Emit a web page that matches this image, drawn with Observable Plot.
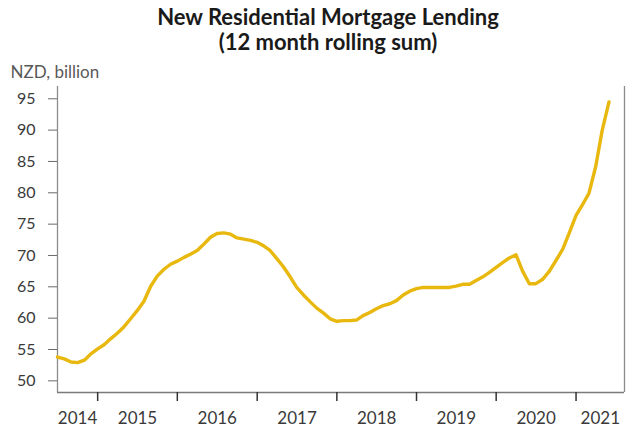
<!DOCTYPE html>
<html>
<head>
<meta charset="utf-8">
<script src="https://cdn.jsdelivr.net/npm/d3@7"></script>
<script src="https://cdn.jsdelivr.net/npm/@observablehq/plot@0.6"></script>
<style>
  html, body { margin: 0; padding: 0; background: #fff; }
  #wrap { width: 640px; height: 437px; overflow: hidden; }
  #title { box-sizing: border-box; width: 640px; height: 54px; padding-top: 4px; padding-left: 16px;
           text-align: center; font-family: Lato, "Open Sans", sans-serif; font-weight: bold;
           font-size: 22px; line-height: 25px; color: #1a1a1a; }
  svg { display: block; }
</style>
</head>
<body>
<div id="wrap">
  <div id="title">
    <div>New Residential Mortgage Lending</div>
    <div>(12 month rolling sum)</div>
  </div>
  <div id="chart"></div>
</div>
<script>
// Monthly series, July 2014 – June 2021 (NZD billion, 12 month rolling sum)
const firstMonth = "2014-07-01";
const lending = [
  53.8, 53.5, 53.0, 52.9, 53.3, 54.3,            // 2014 Jul–Dec
  55.1, 55.8, 56.7, 57.6, 58.6, 59.9, 61.2, 62.7, 65.1, 66.7, 67.8, 68.6, // 2015
  69.1, 69.7, 70.2, 70.8, 71.8, 72.9, 73.5, 73.6, 73.4, 72.8, 72.6, 72.4, // 2016
  72.1, 71.5, 70.8, 69.5, 68.2, 66.6, 64.9, 63.7, 62.6, 61.6, 60.8, 59.9, // 2017
  59.5, 59.6, 59.6, 59.7, 60.4, 60.9, 61.5, 62.0, 62.3, 62.8, 63.7, 64.3, // 2018
  64.7, 64.9, 64.9, 64.9, 64.9, 64.9, 65.1, 65.4, 65.4, 66.0, 66.6, 67.3, // 2019
  68.1, 68.9, 69.6, 70.1, 67.5, 65.5, 65.5, 66.2, 67.5, 69.2, 71.0, 73.6, // 2020
  76.4, 78.2, 79.9, 84.2, 90.0, 94.5              // 2021 Jan–Jun
];
const years = ["2014", "2015", "2016", "2017", "2018", "2019", "2020", "2021"];
const yTicks = [50, 55, 60, 65, 70, 75, 80, 85, 90, 95];
const yLabel = "NZD, billion";

const start = new Date(firstMonth);
const data = lending.map((v, i) => ({date: d3.utcMonth.offset(start, i), value: v}));

const xDomain = [new Date("2014-07-01"), new Date("2021-08-11")];
const yDomain = [48.14, 96.96];

const jan1 = y => new Date(Date.UTC(+y, 0, 1));
const tickDates = years.slice(1).map(jan1);
const labelDates = years.map(y => {
  const a = Math.max(+jan1(y), +xDomain[0]);
  const b = Math.min(+jan1(+y + 1), +xDomain[1]);
  return new Date((a + b) / 2);
});

const chart = Plot.plot({
  width: 640,
  height: 383,
  marginLeft: 57,
  marginRight: 16,
  marginTop: 32,
  marginBottom: 45,
  style: {fontFamily: "Lato, 'Open Sans', sans-serif", fontSize: "16px", color: "#3a3a3a", background: "#fff"},
  x: {type: "utc", domain: xDomain},
  y: {domain: yDomain},
  marks: [
    Plot.ruleX([xDomain[0]], {stroke: "#8c8c8c", strokeWidth: 1.3}),
    Plot.ruleX([xDomain[1]], {stroke: "#8c8c8c", strokeWidth: 1.3}),
    Plot.ruleY([yDomain[0]], {stroke: "#7a7a7a", strokeWidth: 1.3}),
    Plot.axisY(yTicks, {tickSize: 9, tickPadding: 13, stroke: "#6a6a6a", fontSize: 16, label: null, tickFormat: d => String(d)}),
    Plot.axisX(tickDates, {tickSize: 9, stroke: "#333", strokeWidth: 1.5, tickFormat: () => "", label: null}),
    Plot.axisX(labelDates, {tickSize: 0, tickPadding: 19, fontSize: 17, label: null,
      tickFormat: d => String(d.getUTCFullYear())}),
    Plot.text([yLabel], {frameAnchor: "top-left", dx: -47, dy: -14, textAnchor: "start", lineAnchor: "middle",
      fill: "#595959", fontSize: 17}),
    Plot.lineY(data, {x: "date", y: "value", stroke: "#E8B80E", strokeWidth: 3.4, strokeLinejoin: "round", strokeLinecap: "round"})
  ]
});
document.getElementById("chart").appendChild(chart);
</script>
</body>
</html>
